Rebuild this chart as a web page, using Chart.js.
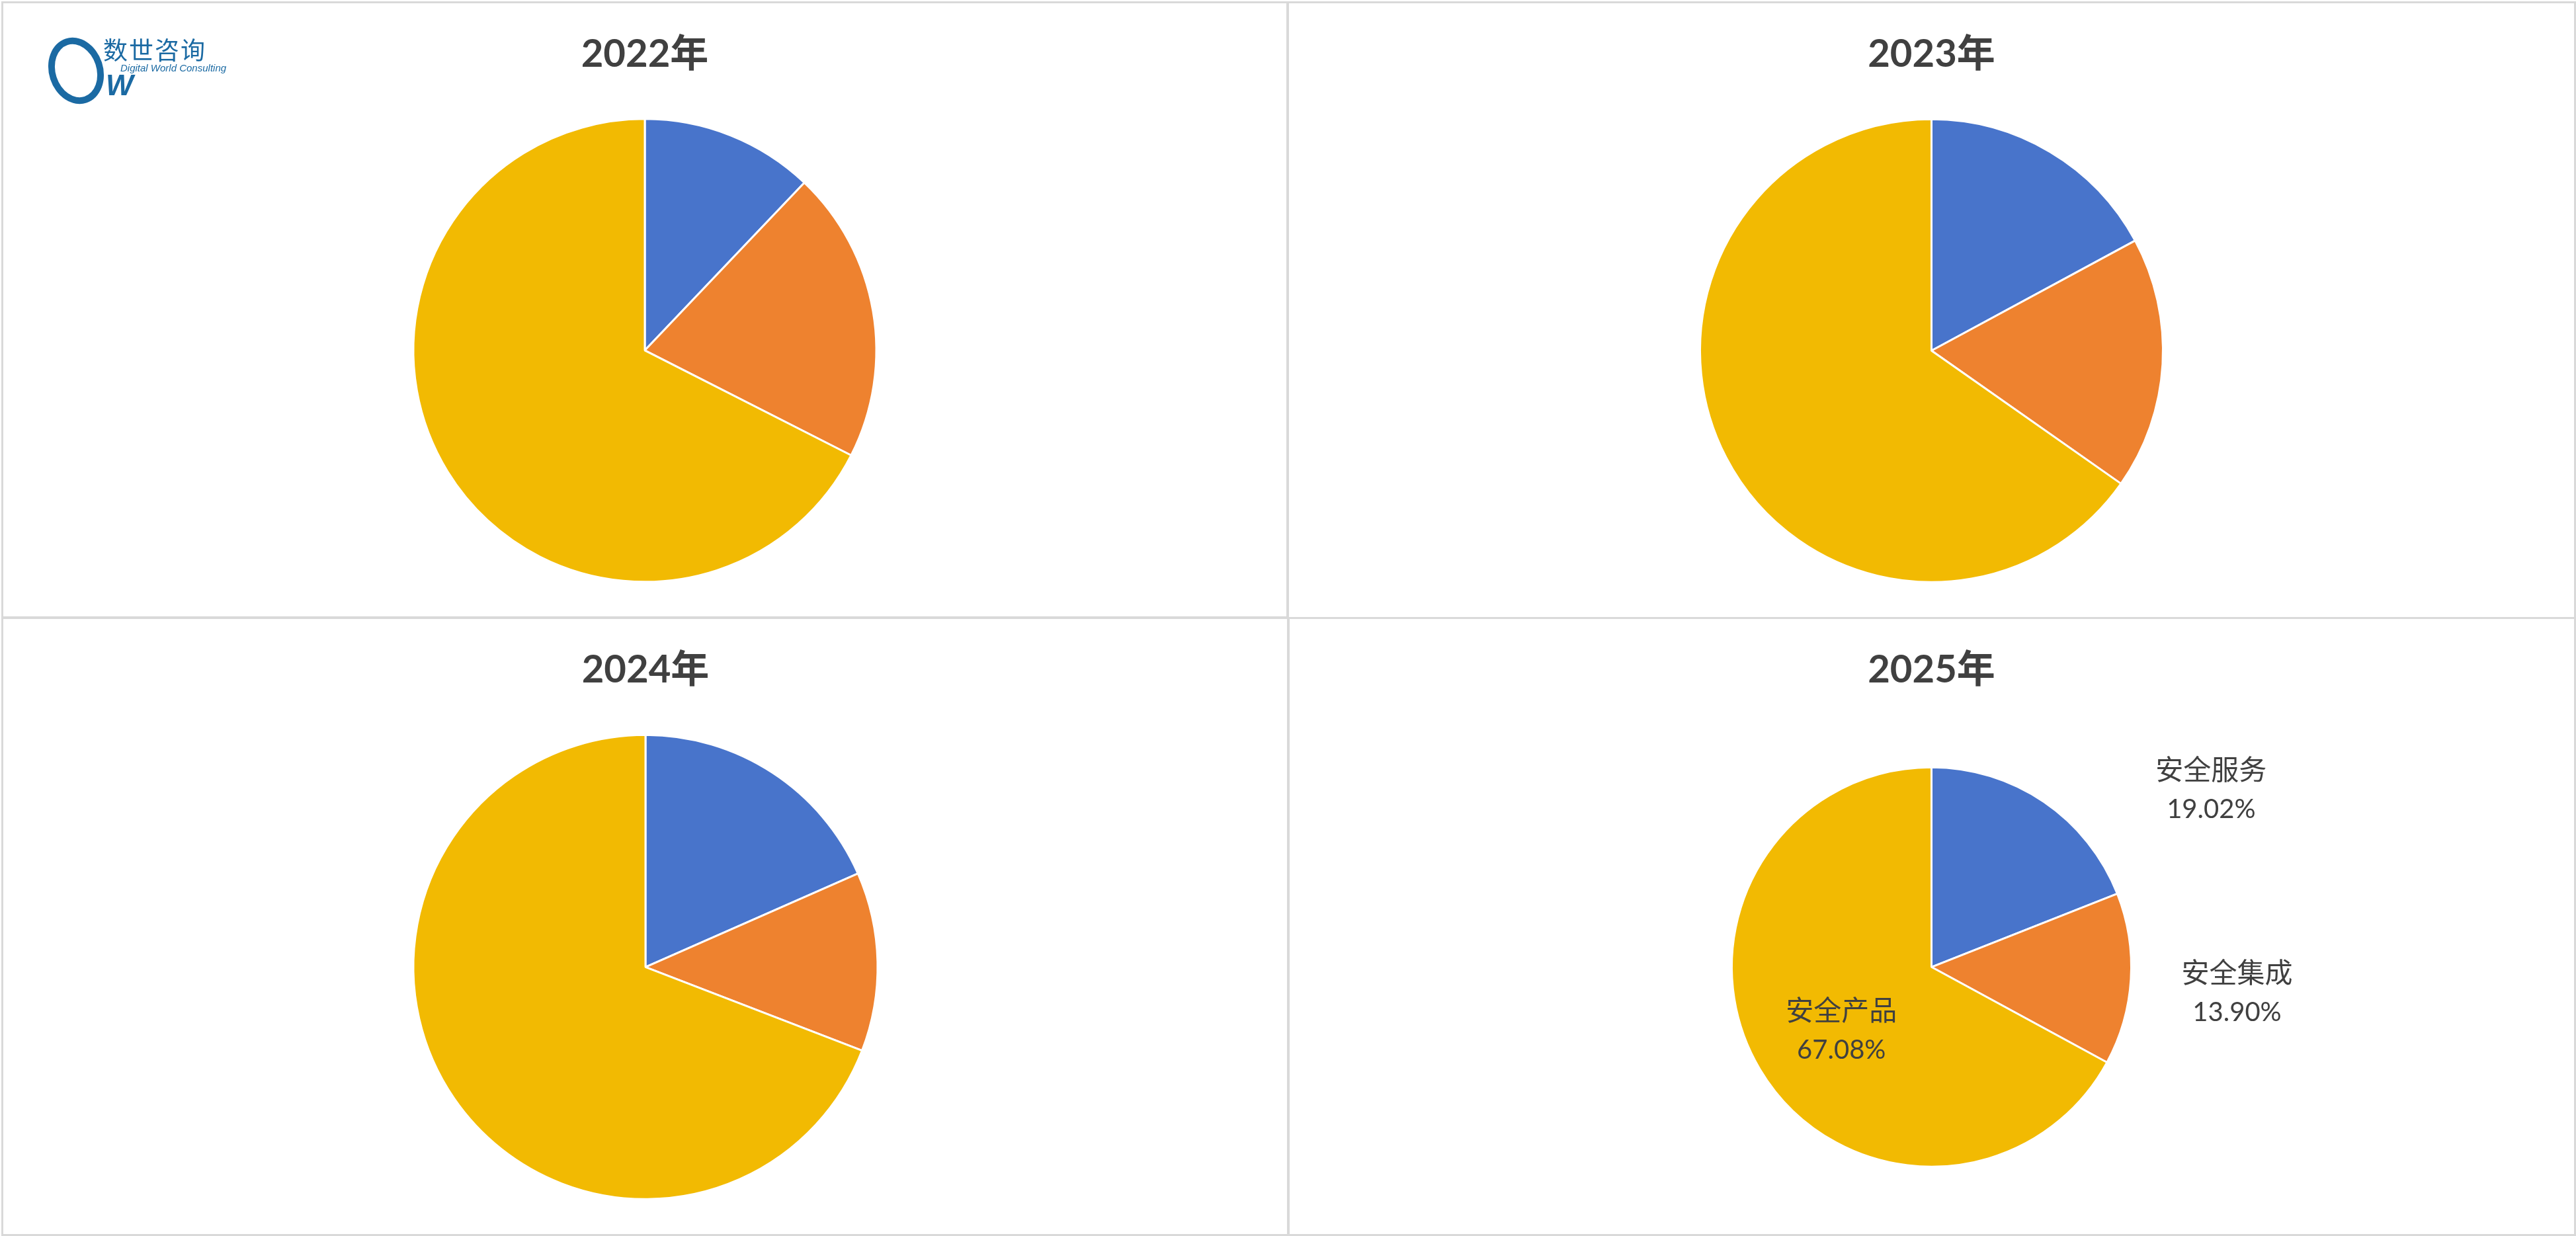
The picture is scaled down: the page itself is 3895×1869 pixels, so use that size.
<!DOCTYPE html>
<html>
<head>
<meta charset="utf-8">
<title>安全市场结构 2022-2025</title>
<script src="https://cdn.jsdelivr.net/npm/chart.js@4/dist/chart.umd.min.js"></script>
<style>
  html, body { margin: 0; padding: 0; background: #fff; overflow: hidden; }
  body { width: 3895px; height: 1869px; position: relative; }
  .panel { position: absolute; box-sizing: border-box; border: 3px solid #d9d9d9; }
  .plot { position: absolute; }
  .logo { position: absolute; left: 0; top: 0; width: 360px; height: 160px; color: #1b6aa3; }
  .ring { position: absolute; left: 74px; top: 56px; width: 62px; height: 82px;
          border: 10px solid #1b6aa3; border-radius: 50%; transform: rotate(-18deg); }
  .logo .cn { position: absolute; left: 156px; top: 47px; font: 37px "Noto Sans CJK SC"; letter-spacing: 2px; }
  .logo .en { position: absolute; left: 182px; top: 94px; font: italic 15px "Liberation Sans"; }
  .logo .w { position: absolute; left: 160px; top: 104px; font: bold italic 44px "Liberation Sans"; }
</style>
</head>
<body>
<script>
/******************************************************************************
  DATA
******************************************************************************/
var categories = ['安全服务', '安全集成', '安全产品']
var years = ['2022年', '2023年', '2024年', '2025年']
var share2022 = [12.10, 20.39, 67.51]
var share2023 = [17.11, 17.63, 65.26]
var share2024 = [18.40, 12.46, 69.14]
var share2025 = [19.02, 13.90, 67.08]

// COLORS
var blue = '#4874CB'
var orange = '#EE822F'
var yellow = '#F2BA02'
var textGray = '#404040'
var borderGray = '#d9d9d9'

// FONTS
var titleFamily = 'Lato, "Noto Sans CJK SC", sans-serif'
var labelFamily = '"Noto Sans CJK SC", sans-serif'

/******************************************************************************
  PANELS  (left, top, width, height, radius, labels shown)
******************************************************************************/
var panels = [
  { year: years[0], data: share2022, left: 2,    top: 2,   width: 1946, height: 933, radius: 350, labels: false },
  { year: years[1], data: share2023, left: 1946, top: 2,   width: 1949, height: 934, radius: 350, labels: false },
  { year: years[2], data: share2024, left: 2,    top: 933, width: 1948, height: 936, radius: 351, labels: false },
  { year: years[3], data: share2025, left: 1946, top: 933, width: 1949, height: 936, radius: 302, labels: true }
]

// label spots: [degrees clockwise from 12 o'clock, multiple of radius]
var labelSpots = [[57.5, 1.66], [94.7, 1.535], [235.1, 0.55]]

/******************************************************************************
  LABEL PLUGIN
******************************************************************************/
var sliceLabels = {
  id: 'sliceLabels',
  afterDatasetsDraw: function (chart, args, opts) {
    if (!opts.show) return
    var ctx = chart.ctx
    var meta = chart.getDatasetMeta(0)
    var values = chart.data.datasets[0].data
    meta.data.forEach(function (arc, i) {
      var p = arc.getProps(['x', 'y', 'outerRadius'], true)
      var spot = opts.spots[i]
      var a = (spot[0] - 90) * Math.PI / 180
      var cx = p.x + Math.cos(a) * p.outerRadius * spot[1]
      var cy = p.y + Math.sin(a) * p.outerRadius * spot[1]
      ctx.save()
      ctx.fillStyle = textGray
      ctx.textAlign = 'center'
      ctx.textBaseline = 'middle'
      ctx.font = '42px ' + labelFamily
      ctx.fillText(chart.data.labels[i], cx, cy - 30)
      ctx.font = '40px ' + titleFamily
      ctx.fillText(values[i].toFixed(2) + '%', cx, cy + 31)
      ctx.restore()
    })
  }
}

/******************************************************************************
  BUILD
******************************************************************************/
function makePanel (p) {
  var frame = document.createElement('div')
  frame.className = 'panel'
  frame.style.cssText = 'left:' + p.left + 'px;top:' + p.top + 'px;width:' + p.width +
    'px;height:' + p.height + 'px;border-color:' + borderGray
  document.body.appendChild(frame)

  var box = document.createElement('div')
  box.className = 'plot'
  box.style.cssText = 'left:' + p.left + 'px;top:' + p.top + 'px;width:' + p.width +
    'px;height:' + p.height + 'px'
  var canvas = document.createElement('canvas')
  box.appendChild(canvas)
  document.body.appendChild(box)

  new Chart(canvas, {
    type: 'pie',
    data: {
      labels: categories,
      datasets: [{
        data: p.data,
        backgroundColor: [blue, orange, yellow],
        borderColor: '#ffffff',
        borderWidth: 3
      }]
    },
    options: {
      responsive: true,
      maintainAspectRatio: false,
      animation: false,
      radius: p.radius,
      layout: { padding: { top: 0, bottom: 55, left: 0, right: 0 } },
      plugins: {
        legend: { display: false },
        tooltip: { enabled: false },
        title: {
          display: true,
          text: p.year,
          color: textGray,
          font: { family: titleFamily, size: 58, weight: 'bold', lineHeight: 1.2 },
          padding: { top: 45, bottom: 63 }
        },
        sliceLabels: { show: p.labels, spots: labelSpots }
      }
    },
    plugins: [sliceLabels]
  })
}

panels.forEach(makePanel)

// LOGO
var logo = document.createElement('div')
logo.className = 'logo'
logo.innerHTML = '<div class="ring"></div><span class="cn">数世咨询</span>' +
  '<span class="en">Digital World Consulting</span><span class="w">W</span>'
document.body.appendChild(logo)
</script>
</body>
</html>
